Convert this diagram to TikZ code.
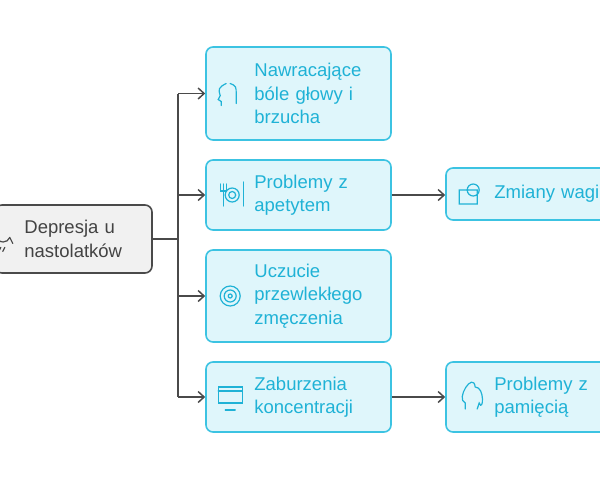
\documentclass[tikz,border=0pt]{standalone}
\usepackage{fontspec}
\setmainfont{Liberation Sans}
\usetikzlibrary{arrows.meta,positioning}
\definecolor{cyanline}{HTML}{3CC3E2}
\definecolor{cyanfill}{HTML}{DFF6FB}
\definecolor{cyantext}{HTML}{1FB2D6}
\definecolor{rootfill}{HTML}{F1F1F1}
\definecolor{rootline}{HTML}{4A4A4A}
\tikzset{
    box/.style={
           rectangle,
           rounded corners=7pt,
           draw=cyanline, line width=1.6pt,
           fill=cyanfill,
           inner sep=0pt,
           },
    rootbox/.style={box, draw=rootline, fill=rootfill},
    lbl/.style={
           anchor=west,
           text width=140pt,
           align=left,
           inner sep=0pt,
           text=cyantext,
           font=\fontsize{18.5}{23.5}\selectfont,
           },
    icon/.style={draw=cyantext, line width=1.2pt, line cap=round},
    conn/.style={draw=rootline, line width=1.5pt, -{Straight Barb[length=6pt,width=11pt]}},
}
\begin{document}
\begin{tikzpicture}[x=1pt,y=-1pt]
 \useasboundingbox (0,0) rectangle (600,480);

 % root
 \node[rootbox,minimum width=157pt,minimum height=68pt] (DN) at (73.5,239) {};
 \node[lbl,text=rootline!90!black] (DNt) at ([xshift=30pt]DN.west) {Depresja u\\nastolatków};

 % first level
 \node[box,minimum width=185pt,minimum height=93pt] (Pain) at (298.5,93.5) {};
 \node[lbl] (Paint) at ([xshift=49pt]Pain.west) {Nawracające\\bóle głowy i\\brzucha};
 \node[box,minimum width=185pt,minimum height=70pt] (App) at (298.5,195) {};
 \node[lbl] (Appt) at ([xshift=49pt]App.west) {Problemy z\\apetytem};
 \node[box,minimum width=185pt,minimum height=92pt] (Tired) at (298.5,296) {};
 \node[lbl] (Tiredt) at ([xshift=49pt]Tired.west) {Uczucie\\przewlekłego\\zmęczenia};
 \node[box,minimum width=185pt,minimum height=70pt] (Conc) at (298.5,397) {};
 \node[lbl] (Conct) at ([xshift=49pt]Conc.west) {Zaburzenia\\koncentracji};

 % second level
 \node[box,minimum width=166pt,minimum height=52pt] (Weight) at (529,194) {};
 \node[lbl] (Weightt) at ([xshift=49pt]Weight.west) {Zmiany wagi};
 \node[box,minimum width=166pt,minimum height=70pt] (Mem) at (529,397) {};
 \node[lbl] (Memt) at ([xshift=49pt]Mem.west) {Problemy z\\pamięcią};

 % icons
 \draw[icon,draw=rootline] ([xshift=8pt]DN.west) ++(-6,-4) arc (180:20:7) ++(0,0) -- ++(3,6) ++(-12,4) -- ++(-2,4) ++(6,-4) -- ++(-2,4);
 \draw[icon] ([xshift=25pt]Pain.west) ++(-4,-10) .. controls ++(-8,4) and ++(-2,-6) .. ++(-6,12) -- ++(-2,4) -- ++(3,2) -- ++(0,4) ++(9,-22) .. controls ++(6,2) and ++(0,-6) .. ++(6,10) -- ++(0,10);
 \draw[icon] ([xshift=18pt]App.west) ++(0,-11) -- ++(0,22) ++(-3,-22) -- ++(0,7) -- ++(6,0) -- ++(0,-7) ++(17,-2) -- ++(0,24);
 \draw[icon] ([xshift=27pt]App.west) circle (7pt) circle (3.5pt);
 \draw[icon] ([xshift=25pt]Tired.west) circle (10pt) circle (6pt) circle (2pt);
 \draw[icon] ([xshift=25pt]Conc.west) ++(-12,-10) rectangle ++(24,16) ++(-24,-12) -- ++(24,0) ++(-17,19) -- ++(10,0);
 \draw[icon] ([xshift=24pt]Weight.west) ++(-10,-4) rectangle ++(18,14) ++(-4,-14) circle (6pt);
 \draw[icon] ([xshift=24pt]Mem.west) ++(-4,12) -- ++(0,-6) .. controls ++(-10,-4) and ++(-2,-16) .. ++(10,-16) .. controls ++(10,0) and ++(4,10) .. ++(4,16) -- ++(-2,6);

 % connectors
 \coordinate (Trunk) at (178,239);
 \draw[rootline,line width=1.5pt] (DN.east) -- (Trunk);
 \draw[rootline,line width=1.5pt] (Trunk |- Pain) -- (Trunk |- Conc);
 \foreach \n in {Pain,App,Tired,Conc}
   \draw[conn] (Trunk |- \n) -- (\n.west);
 \draw[conn] (App.east) -- (App.east -| Weight.west);
 \draw[conn] (Conc.east) -- (Mem.west);
\end{tikzpicture}
\end{document}
